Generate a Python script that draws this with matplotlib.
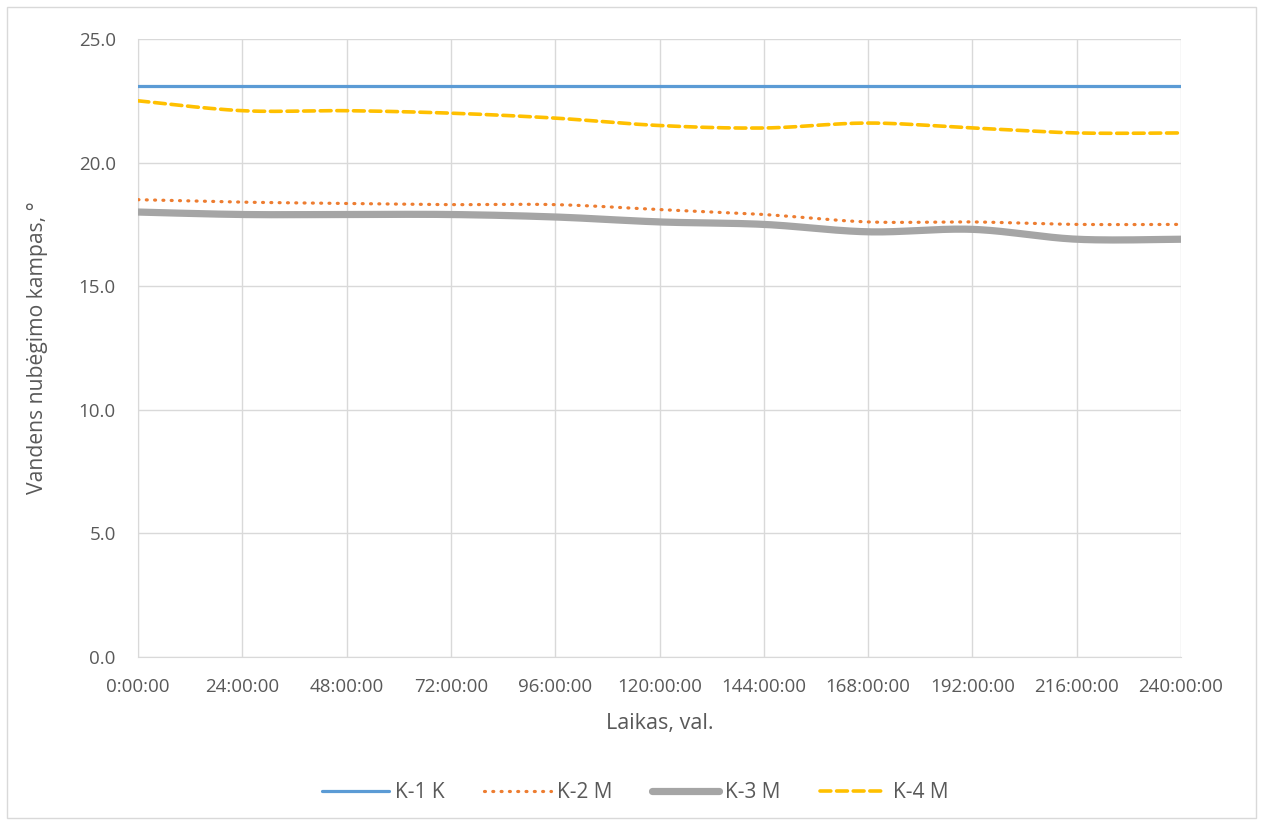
import numpy as np
import matplotlib
matplotlib.use("Agg")
import matplotlib.pyplot as plt
from matplotlib.patches import Rectangle

# Measurement times, hours
hours = [0, 24, 48, 72, 96, 120, 144, 168, 192, 216, 240]
tick_labels = ["0:00:00", "24:00:00", "48:00:00", "72:00:00", "96:00:00", "120:00:00",
               "144:00:00", "168:00:00", "192:00:00", "216:00:00", "240:00:00"]

# Water runoff angle, degrees
k1 = [23.1, 23.1, 23.1, 23.1, 23.1, 23.1, 23.1, 23.1, 23.1, 23.1, 23.1]
k2 = [18.5, 18.4, 18.35, 18.3, 18.3, 18.1, 17.9, 17.6, 17.6, 17.5, 17.5]
k3 = [18.0, 17.9, 17.9, 17.9, 17.8, 17.6, 17.5, 17.2, 17.3, 16.9, 16.9]
k4 = [22.5, 22.1, 22.1, 22.0, 21.8, 21.5, 21.4, 21.6, 21.4, 21.2, 21.2]

series_names = ["K-1 K", "K-2 M", "K-3 M", "K-4 M"]


def smooth(x, y, n=30):
    """Smoothed line through the points (cubic Bezier segments, Catmull-Rom tangents)."""
    x = np.asarray(x, float)
    y = np.asarray(y, float)
    px = np.concatenate([[x[0]], x, [x[-1]]])
    py = np.concatenate([[y[0]], y, [y[-1]]])
    xs, ys = [], []
    t = np.linspace(0, 1, n)
    for i in range(len(x) - 1):
        p0 = np.array([px[i], py[i]])
        p1 = np.array([px[i + 1], py[i + 1]])
        p2 = np.array([px[i + 2], py[i + 2]])
        p3 = np.array([px[i + 3], py[i + 3]])
        c1 = p1 + (p2 - p0) / 6.0
        c2 = p2 - (p3 - p1) / 6.0
        b = ((1 - t) ** 3)[:, None] * p1 + (3 * (1 - t) ** 2 * t)[:, None] * c1 \
            + (3 * (1 - t) * t ** 2)[:, None] * c2 + (t ** 3)[:, None] * p2
        xs.extend(b[:, 0])
        ys.extend(b[:, 1])
    return np.array(xs), np.array(ys)


plt.rcParams['font.family'] = ['Open Sans', 'DejaVu Sans']

fig = plt.figure(figsize=(12.65, 8.25), dpi=100)
fig.patch.set_facecolor("white")
fig.add_artist(Rectangle((7 / 1265, 1 - 818 / 825), 1249 / 1265, 811 / 825,
                         transform=fig.transFigure, fill=False,
                         edgecolor="#D9D9D9", linewidth=1.0))

ax = fig.add_axes([138 / 1265, 1 - 657 / 825, 1043 / 1265, 618 / 825])

styles = [
    dict(color="#5B9BD5", lw=2.3, ls="-", solid_capstyle="round"),
    dict(color="#ED7D31", lw=2.3, ls=(0, (0.3, 2.3)), dash_capstyle="round"),
    dict(color="#A5A5A5", lw=5.2, ls="-", solid_capstyle="round"),
    dict(color="#FFC000", lw=2.6, ls=(0, (3.0, 1.6)), dash_capstyle="round"),
]

for vals, name, st in zip([k1, k2, k3, k4], series_names, styles):
    sx, sy = smooth(hours, vals)
    ax.plot(sx, sy, label=name, zorder=3, **st)

ax.set_xlim(0, 240)
ax.set_ylim(0, 25)
ax.set_xticks(hours)
ax.set_xticklabels(tick_labels)
ax.set_yticks(np.arange(0, 25.1, 5))
ax.set_yticklabels([f"{v:.1f}" for v in np.arange(0, 25.1, 5)])

ax.grid(True, color="#D9D9D9", linewidth=1.0, zorder=0)
ax.set_axisbelow(True)
for side in ["top", "right"]:
    ax.spines[side].set_visible(False)
ax.spines["left"].set_color("#D9D9D9")
ax.spines["bottom"].set_color("#D9D9D9")
ax.tick_params(axis="x", length=0, labelsize=13.5, colors="#595959", pad=15)
ax.tick_params(axis="y", length=0, labelsize=13.5, colors="#595959", pad=16)

ax.set_xlabel("Laikas, val.", fontsize=15.5, color="#595959", labelpad=12)
ax.set_ylabel("Vandens nubėgimo kampas, °", fontsize=15.2, color="#595959", labelpad=22)

leg = fig.legend(loc="center", bbox_to_anchor=(635 / 1265, 1 - 793 / 825), ncol=4,
                 frameon=False, fontsize=15, handlelength=3.2, columnspacing=1.9,
                 handletextpad=0.3, labelcolor="#595959")

fig.savefig("out.png", dpi=100)
